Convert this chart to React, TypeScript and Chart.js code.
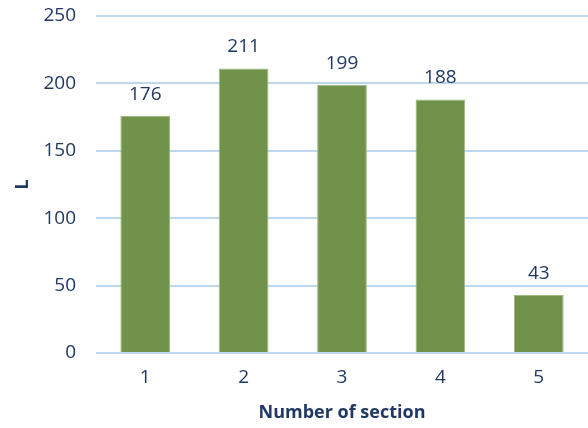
import React, { useEffect, useRef } from "react";
import { Chart, registerables } from "chart.js";

Chart.register(...registerables);

const categories = ["1", "2", "3", "4", "5"];
const values = [176, 211, 199, 188, 43];
const yTicks = [0, 50, 100, 150, 200, 250];

const textColor = "#203864";
const fontFamily = "'Open Sans', 'Liberation Sans', sans-serif";

const labelPlugin = {
  id: "barLabels",
  afterDatasetsDraw(chart: any) {
    const ctx = chart.ctx;
    const meta = chart.getDatasetMeta(0);
    ctx.save();
    ctx.fillStyle = textColor;
    ctx.font = `19px ${fontFamily}`;
    ctx.textAlign = "center";
    ctx.textBaseline = "bottom";
    meta.data.forEach((bar: any, i: number) => {
      ctx.fillText(String(values[i]), bar.x, bar.y - 12);
    });
    ctx.restore();
  },
};

export default function App() {
  const ref = useRef<HTMLCanvasElement>(null);
  useEffect(() => {
    document.body.style.margin = "0";
    document.body.style.overflow = "hidden";
    const chart = new Chart(ref.current!, {
      type: "bar",
      data: {
        labels: categories,
        datasets: [
          {
            data: values,
            backgroundColor: "#71924A",
            borderColor: "#9DB97E",
            borderWidth: 1,
            categoryPercentage: 1,
            barPercentage: 0.505,
          },
        ],
      },
      options: {
        animation: false,
        responsive: false,
        layout: { padding: { top: 16, right: 0, left: 0, bottom: 0 } },
        plugins: { legend: { display: false }, tooltip: { enabled: false } },
        scales: {
          x: {
            grid: { display: false, drawTicks: false },
            border: { display: false },
            ticks: { color: textColor, font: { family: fontFamily, size: 19 }, padding: 13 },
            title: {
              display: true,
              text: "Number of section",
              color: textColor,
              font: { family: fontFamily, size: 18, weight: "bold" },
              padding: { top: 14 },
            },
            afterFit(scale: any) {
              scale.height = 75;
            },
          },
          y: {
            min: 0,
            max: 250,
            afterBuildTicks(scale: any) {
              scale.ticks = yTicks.map((v) => ({ value: v }));
            },
            grid: { color: "#BDD7EE", lineWidth: 2, drawTicks: false },
            border: { display: false },
            ticks: { color: textColor, font: { family: fontFamily, size: 19 }, padding: 20 },
            title: {
              display: true,
              text: "L",
              color: textColor,
              font: { family: fontFamily, size: 18, weight: "bold" },
              padding: { bottom: 0, top: 12 },
            },
            afterFit(scale: any) {
              scale.width = 96;
              scale.paddingTop = 0;
              scale.paddingBottom = 0;
            },
          },
        },
      },
      plugins: [labelPlugin],
    });
    return () => chart.destroy();
  }, []);
  return <canvas ref={ref} width={588} height={428} style={{ display: "block" }} />;
}
